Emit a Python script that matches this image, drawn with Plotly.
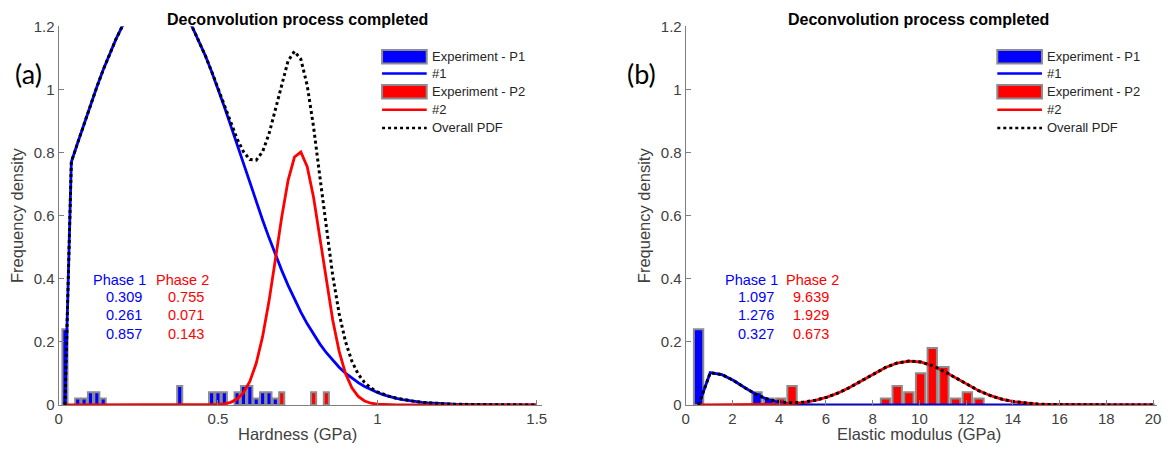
import numpy as np
import plotly.graph_objects as go

# ---------------- (a) Hardness ----------------
h_bins_p1 = [0.02, 0.06, 0.08, 0.10, 0.12, 0.14, 0.38, 0.48, 0.50, 0.52,
             0.56, 0.58, 0.60, 0.62, 0.64, 0.66, 0.68]
h_freq_p1 = [0.24, 0.02, 0.02, 0.04, 0.04, 0.02, 0.06, 0.04, 0.04, 0.04,
             0.04, 0.06, 0.06, 0.02, 0.04, 0.04, 0.02]
h_bins_p2 = [0.70, 0.80, 0.84]
h_freq_p2 = [0.04, 0.04, 0.04]
h_mean = [0.309, 0.755]
h_std = [0.261, 0.071]
h_frac = [0.857, 0.143]
h_step = 0.02
h_xmax = 1.5

# ---------------- (b) Elastic modulus ----------------
e_bins_p1 = [0.55, 3.05, 3.55]
e_freq_p1 = [0.24, 0.04, 0.02]
e_bins_p2 = [4.05, 4.55, 8.55, 9.05, 9.55, 10.05, 10.55, 11.05, 11.55, 12.05, 12.55]
e_freq_p2 = [0.02, 0.06, 0.02, 0.06, 0.04, 0.10, 0.18, 0.12, 0.02, 0.04, 0.02]
e_mean = [1.097, 9.639]
e_std = [1.276, 1.929]
e_frac = [0.327, 0.673]
e_step = 0.5
e_xmax = 20.05

y_ticks = [0, 0.2, 0.4, 0.6, 0.8, 1.0, 1.2]
y_ticklabels = ["0", "0.2", "0.4", "0.6", "0.8", "1", "1.2"]
h_ticks = [0, 0.5, 1, 1.5]
h_ticklabels = ["0", "0.5", "1", "1.5"]
e_ticks = list(range(0, 21, 2))
e_ticklabels = [str(t) for t in e_ticks]

BLUE = "#0000ff"
RED = "#ff0000"
EDGE = "#8c8c8c"
AXIS = "#7f7f7f"
TXT = "#404040"
FONT = "Liberation Sans, Arial, sans-serif"

W, H = 1170, 463


def px(x):
    return x / W


def py(y):
    return 1 - y / H


def gauss_mix(first_bin, step, xmax, means, stds, fracs):
    """Weighted normal components evaluated on the bin-centre grid.
    Curves are anchored to the baseline at the first bin centre."""
    x = np.arange(first_bin, xmax + step / 2, step)
    comps = []
    for m, s, f in zip(means, stds, fracs):
        y = f * np.exp(-0.5 * ((x - m) / s) ** 2) / (s * np.sqrt(2 * np.pi))
        y[0] = 0.0
        comps.append(y)
    return x, comps, comps[0] + comps[1]


fig = go.Figure()


def add_panel(xa, ya, b1, f1, b2, f2, bw, x, comps, total):
    fig.add_trace(go.Bar(x=b1, y=f1, width=bw, xaxis=xa, yaxis=ya,
                         marker=dict(color=BLUE, line=dict(color=EDGE, width=2)),
                         showlegend=False))
    fig.add_trace(go.Scatter(x=x, y=comps[0], mode="lines", xaxis=xa, yaxis=ya,
                             line=dict(color=BLUE, width=2.8), showlegend=False))
    fig.add_trace(go.Bar(x=b2, y=f2, width=bw, xaxis=xa, yaxis=ya,
                         marker=dict(color=RED, line=dict(color=EDGE, width=2)),
                         showlegend=False))
    fig.add_trace(go.Scatter(x=x, y=comps[1], mode="lines", xaxis=xa, yaxis=ya,
                             line=dict(color=RED, width=2.8), showlegend=False))
    fig.add_trace(go.Scatter(x=x, y=total, mode="lines", xaxis=xa, yaxis=ya,
                             line=dict(color="black", width=3, dash="dot"),
                             showlegend=False))


hx, hc, ht = gauss_mix(h_bins_p1[0], h_step, h_xmax, h_mean, h_std, h_frac)
ex, ec, et = gauss_mix(e_bins_p1[0], e_step, e_xmax, e_mean, e_std, e_frac)

add_panel("x", "y", h_bins_p1, h_freq_p1, h_bins_p2, h_freq_p2, 0.8 * h_step, hx, hc, ht)
add_panel("x2", "y2", e_bins_p1, e_freq_p1, e_bins_p2, e_freq_p2, 0.8 * e_step, ex, ec, et)

# plot areas in pixels (left, right), shared top/bottom
LEFT = (55, 542)
RIGHT = (687, 1162)
TOP, BOT = 18, 411

axis_common = dict(showline=True, linecolor=AXIS, linewidth=1, ticks="inside",
                   ticklen=5, tickcolor=AXIS, showgrid=False, zeroline=False,
                   tickfont=dict(family=FONT, size=15, color=TXT), mirror=False)

fig.update_layout(
    width=W, height=H, margin=dict(l=0, r=0, t=0, b=0),
    paper_bgcolor="white", plot_bgcolor="white", barmode="overlay",
    showlegend=False,
    xaxis=dict(domain=[px(LEFT[0]), px(LEFT[1])], range=[0, 1.516],
               tickvals=h_ticks, ticktext=h_ticklabels, anchor="y", **axis_common),
    yaxis=dict(domain=[py(BOT), py(TOP)], range=[0, 1.2],
               tickvals=y_ticks, ticktext=y_ticklabels, anchor="x", **axis_common),
    xaxis2=dict(domain=[px(RIGHT[0]), px(RIGHT[1])], range=[0, 20.17],
                tickvals=e_ticks, ticktext=e_ticklabels, anchor="y2", **axis_common),
    yaxis2=dict(domain=[py(BOT), py(TOP)], range=[0, 1.2],
                tickvals=y_ticks, ticktext=y_ticklabels, anchor="x2", **axis_common),
)

ann = []
shapes = []


def text(x, y, s, size=14, color=TXT, xanchor="center", bold=False, angle=0, family=FONT):
    ann.append(dict(x=px(x), y=py(y), xref="paper", yref="paper", text=s,
                    showarrow=False, xanchor=xanchor, yanchor="middle", textangle=angle,
                    font=dict(family=family, size=size, color=color,
                              weight="bold" if bold else "normal")))


panels = [
    dict(L=LEFT, xlabel="Hardness (GPa)", tag="(a)", tagx=25, ytx=13,
         params=(h_mean, h_std, h_frac), p1r=145, p2l=151, v1r=141, v2l=163),
    dict(L=RIGHT, xlabel="Elastic modulus (GPa)", tag="(b)", tagx=642, ytx=645,
         params=(e_mean, e_std, e_frac), p1r=782, p2l=786, v1r=778, v2l=793),
]

for p in panels:
    cx = (p["L"][0] + p["L"][1] - 5) / 2
    text(cx, 11, "Deconvolution process completed", size=16, color="black", bold=True)
    text(cx, 441, p["xlabel"], size=16.5)
    text(p["ytx"], 214, "Frequency density", size=16.5, angle=-90)
    text(p["tagx"], 67, p["tag"], size=27, color="black", family="Lato, Open Sans, sans-serif")

    # fitted parameters per phase: mean, std, fraction
    text(p["p1r"], 281, "Phase 1", size=14.5, color=BLUE, xanchor="right")
    text(p["p2l"], 281, "Phase 2", size=14.5, color=RED, xanchor="left")
    means, stds, fracs = p["params"]
    for row, (v1, v2) in enumerate(zip([means[0], stds[0], fracs[0]],
                                       [means[1], stds[1], fracs[1]])):
        yy = 299 + row * 19
        text(p["v1r"], yy, f"{v1:.3f}", size=14.5, color=BLUE, xanchor="right")
        text(p["v2l"], yy, f"{v2:.3f}", size=14.5, color=RED, xanchor="left")

    # legend
    lx0 = p["L"][1] - 161
    lx1 = lx0 + 45
    rows = [49.5, 67, 86, 104.5, 123.5]
    labels = ["Experiment - P1", "#1", "Experiment - P2", "#2", "Overall PDF"]
    for i, (yy, lab) in enumerate(zip(rows, labels)):
        if i in (0, 2):
            shapes.append(dict(type="rect", xref="paper", yref="paper",
                               x0=px(lx0), x1=px(lx1), y0=py(yy + 7), y1=py(yy - 7),
                               fillcolor=BLUE if i == 0 else RED,
                               line=dict(color=EDGE, width=2)))
        else:
            col = {1: BLUE, 3: RED, 4: "black"}[i]
            shapes.append(dict(type="line", xref="paper", yref="paper",
                               x0=px(lx0), x1=px(lx1), y0=py(yy), y1=py(yy),
                               line=dict(color=col, width=2.5,
                                         dash="dot" if i == 4 else "solid")))
        text(lx1 + 3, yy, lab, size=13, color="#262626", xanchor="left")

fig.update_layout(annotations=ann, shapes=shapes)

fig.write_html("out.html", post_script="document.body.style.margin='0';")
